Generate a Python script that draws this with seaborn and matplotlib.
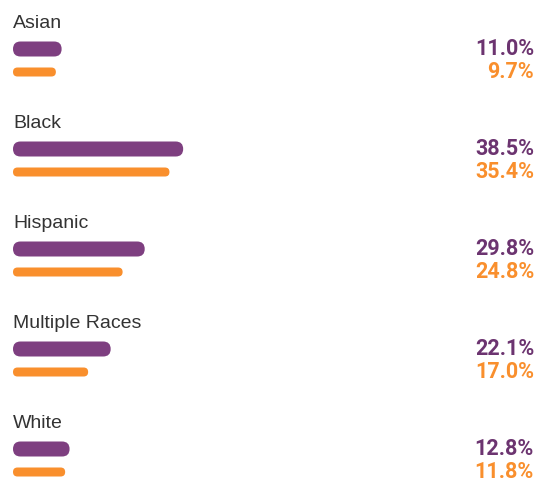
import numpy as np
import pandas as pd
import matplotlib
matplotlib.use('Agg')
import matplotlib.pyplot as plt
import seaborn as sns
from matplotlib.patches import FancyBboxPatch

categories = ['Asian', 'Black', 'Hispanic', 'Multiple Races', 'White']
series_names = ['Series 1', 'Series 2']
values_1 = [11.0, 38.5, 29.8, 22.1, 12.8]
values_2 = [9.7, 35.4, 24.8, 17.0, 11.8]

bar_colors = ['#7E3F80', '#F98F2D']
text_colors = ['#6C3470', '#F98F2D']

df = pd.DataFrame({
    'category': categories * 2,
    'series': [series_names[0]] * 5 + [series_names[1]] * 5,
    'value': values_1 + values_2,
})

sns.set_style('white')
plt.rcParams['font.family'] = ['Liberation Sans', 'DejaVu Sans']

fig = plt.figure(figsize=(5.36, 4.79), dpi=100)
ax = fig.add_axes([0, 0, 1, 1])

sns.barplot(data=df, x='value', y='category', hue='series', orient='h',
            palette=bar_colors, saturation=1, width=0.46, dodge=True,
            legend=False, ax=ax)

# pixel scale: 0% at x=13px, 4.42 px per %
px_per_x = 4.42
ax.set_xlim(-13 / px_per_x, 523 / px_per_x)
ax.set_ylim(4.185, -0.605)
ax.axis('off')

px_per_y = 100.0
aspect = px_per_x / px_per_y
thick = {0: 15, 1: 9}

patches = list(ax.patches)
for idx, p in enumerate(patches):
    s = idx // len(categories)
    yc = p.get_y() + p.get_height() / 2
    w = p.get_width()
    h = thick[s] / px_per_y
    r = thick[s] / 2 / px_per_x
    fb = FancyBboxPatch((p.get_x(), yc - h / 2), w, h,
                        boxstyle=f'round,pad=0,rounding_size={r}',
                        mutation_aspect=aspect,
                        facecolor=p.get_facecolor(), edgecolor='none')
    p.remove()
    ax.add_patch(fb)
    ax.text(1.0 - 2 / 536, yc, f'{w:.1f}%',
            transform=ax.get_yaxis_transform(),
            ha='right', va='center', fontsize=15.5, fontweight='bold',
            family=['Roboto', 'DejaVu Sans'], color=text_colors[s])

for i, cat in enumerate(categories):
    ax.text(0, i - 0.325, cat, ha='left', va='baseline', fontsize=14,
            color='#333333')

plt.savefig('out.png', dpi=100)
